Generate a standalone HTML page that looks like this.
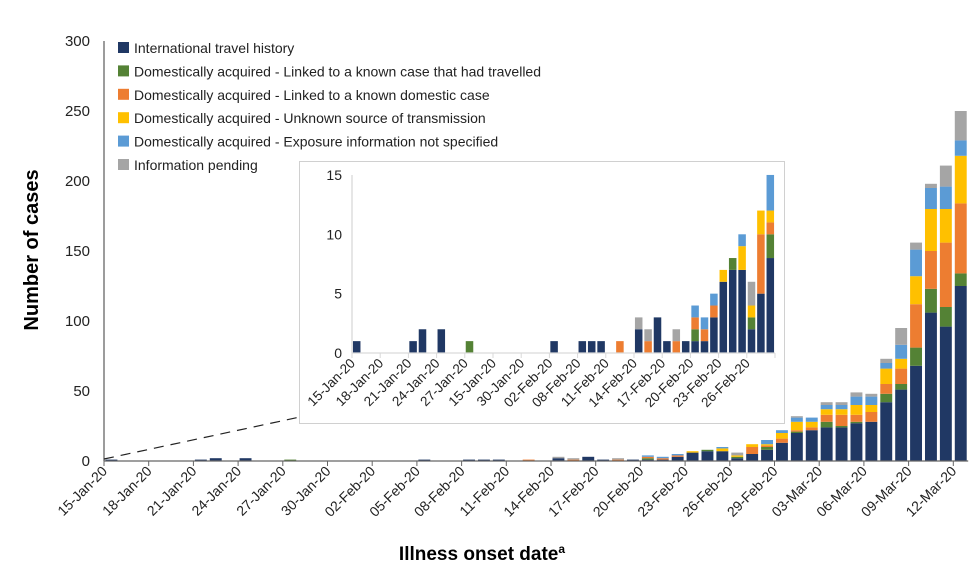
<!DOCTYPE html>
<html><head><meta charset="utf-8">
<style>
html,body{margin:0;padding:0;background:#fff;}
svg{display:block;font-family:"Liberation Sans",sans-serif;}
</style></head>
<body>
<svg id="chart" width="980" height="579" viewBox="0 0 980 579">
<g id="main"></g>
<g id="inset"></g>
<g id="legend"></g>
</svg>
<script>
// Main chart data (58 days from 15-Jan-20 to 12-Mar-20)
const tickLabelsMain = ["15-Jan-20","18-Jan-20","21-Jan-20","24-Jan-20","27-Jan-20","30-Jan-20","02-Feb-20","05-Feb-20","08-Feb-20","11-Feb-20","14-Feb-20","17-Feb-20","20-Feb-20","23-Feb-20","26-Feb-20","29-Feb-20","03-Mar-20","06-Mar-20","09-Mar-20","12-Mar-20"];
const yTicksMain = [0,50,100,150,200,250,300];
const travel   = [1,0,0,0,0,0,1,2,0,2,0,0,0,0,0,0,0,0,0,0,0,1,0,0,1,1,1,0,0,0,2,0,3,1,0,1,1,1,3,6,7,7,2,5,8,13,20,22,24,24,27,28,42,51,68,106,96,125];
const linkTrav = [0,0,0,0,0,0,0,0,0,0,0,0,1,0,0,0,0,0,0,0,0,0,0,0,0,0,0,0,0,0,0,0,0,0,0,0,1,0,0,0,1,0,1,0,2,0,1,0,4,1,1,0,6,4,13,17,14,9];
const linkDom  = [0,0,0,0,0,0,0,0,0,0,0,0,0,0,0,0,0,0,0,0,0,0,0,0,0,0,0,0,1,0,0,1,0,0,1,0,1,1,1,0,0,0,0,5,1,3,1,2,5,8,5,7,7,11,31,27,46,50];
const unknown  = [0,0,0,0,0,0,0,0,0,0,0,0,0,0,0,0,0,0,0,0,0,0,0,0,0,0,0,0,0,0,0,0,0,0,0,0,0,0,0,1,0,2,1,2,1,4,6,4,4,4,7,5,11,7,20,30,24,34];
const notSpec  = [0,0,0,0,0,0,0,0,0,0,0,0,0,0,0,0,0,0,0,0,0,0,0,0,0,0,0,0,0,0,0,0,0,0,0,0,1,1,1,0,0,1,0,0,3,2,3,3,3,3,6,6,4,10,19,15,16,11];
const pending  = [0,0,0,0,0,0,0,0,0,0,0,0,0,0,0,0,0,0,0,0,0,0,0,0,0,0,0,0,0,0,1,1,0,0,1,0,0,0,0,0,0,0,2,0,0,0,1,0,2,2,3,2,3,12,5,3,15,21];
// Inset (first 45 days)
const tickLabelsInset = ["15-Jan-20","18-Jan-20","21-Jan-20","24-Jan-20","27-Jan-20","15-Jan-20","30-Jan-20","02-Feb-20","08-Feb-20","11-Feb-20","14-Feb-20","17-Feb-20","20-Feb-20","23-Feb-20","26-Feb-20"];
const yTicksInset = [0,5,10,15];
const legendLabels = ["International travel history","Domestically acquired - Linked to a known case that had travelled","Domestically acquired - Linked to a known domestic case","Domestically acquired - Unknown source of transmission","Domestically acquired - Exposure information not specified","Information pending"];
const colors = ["#203864","#548235","#ed7d31","#ffc000","#5b9bd5","#a5a5a5"];
const seriesNames = ["travel","linked-travel","linked-domestic","unknown-source","not-specified","pending"];
const series = [travel,linkTrav,linkDom,unknown,notSpec,pending];

const NS="http://www.w3.org/2000/svg";
function mk(parent,tag,attrs,text){const e=document.createElementNS(NS,tag);for(const k in attrs)e.setAttribute(k,attrs[k]);if(text!==undefined)e.textContent=text;parent.appendChild(e);return e;}

function drawChart(g,o){
  const n=o.n;
  const xs=i=>o.x0+i*o.slot;
  const ys=v=>o.y0-v*o.py;
  o.yTicks.forEach(t=>{
    const e=mk(g,"text",{x:o.x0-o.labGap,y:ys(t)+5,"text-anchor":"end","font-size":o.fs,fill:"#222"},t);
    
    
  });
  for(let i=0;i<n;i++){
    let acc=0;
    series.forEach((s,k)=>{
      const v=s[i]; if(!v)return;
      const r=mk(g,"rect",{x:xs(i)+o.slot*0.1,y:ys(acc+v),width:o.slot*0.8,height:v*o.py,fill:colors[k]});
      
      
      acc+=v;
    });
  }
  const ya=mk(g,"line",{x1:o.x0,y1:o.y0,x2:o.x0,y2:ys(o.yTicks[o.yTicks.length-1]),stroke:o.axisCol,"stroke-width":1.3});
  
  
  const xa=mk(g,"line",{x1:o.x0,y1:o.y0,x2:o.x0+n*o.slot,y2:o.y0,stroke:o.axisCol,"stroke-width":1.3});
  
  
  o.xLabels.forEach((lab,j)=>{
    const tx=o.x0+j*3*o.slot;
    mk(g,"line",{x1:tx,y1:o.y0,x2:tx,y2:o.y0+5,stroke:o.axisCol,"stroke-width":1});
    const t=mk(g,"text",{x:tx+4,y:o.y0+11,"text-anchor":"end","font-size":o.xfs,fill:"#222",transform:`rotate(-45 ${tx+4} ${o.y0+11})`},lab);
    
    
  });
  if(o.lastTick){const tx=o.x0+n*o.slot;mk(g,"line",{x1:tx,y1:o.y0,x2:tx,y2:o.y0+5,stroke:o.axisCol});}
}

const main=document.getElementById("main");
drawChart(main,{n:58,x0:104,y0:461,slot:14.9,py:1.4,yTicks:yTicksMain,xLabels:tickLabelsMain,fs:15,xfs:14,labGap:14,axisCol:"#666"});

const dl=mk(main,"line",{x1:104,y1:459,x2:300,y2:417,stroke:"#222","stroke-width":1.2,"stroke-dasharray":"10,7"});



const inset=document.getElementById("inset");
const box=mk(inset,"rect",{x:299.5,y:161.5,width:485,height:262,fill:"#fff",stroke:"#d0d0d0"});


drawChart(inset,{n:45,x0:352,y0:353,slot:9.4,py:11.87,yTicks:yTicksInset,xLabels:tickLabelsInset,fs:14,xfs:13.5,labGap:10,axisCol:"#d9d9d9",lastTick:true});

const yt=mk(main,"text",{x:38,y:250,"text-anchor":"middle","font-size":20,"font-weight":"bold",fill:"#000",transform:"rotate(-90 38 250)"},"Number of cases");


const xt=mk(main,"text",{x:482,y:560,"text-anchor":"middle","font-size":19,"font-weight":"bold",fill:"#000"},"Illness onset date");


mk(xt,"tspan",{"font-size":12,dy:-7},"a");

const lg=document.getElementById("legend");
legendLabels.forEach((l,k)=>{
  const y=48+k*23.4;
  const g=mk(lg,"g",{});
  
  
  mk(g,"rect",{x:118,y:y-6,width:11,height:11,fill:colors[k]});
  mk(g,"text",{x:134,y:y+5,"font-size":14,fill:"#222"},l);
});
</script>
</body></html>
